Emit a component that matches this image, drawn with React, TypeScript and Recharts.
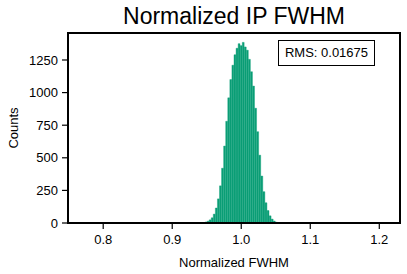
import React from "react";
import { BarChart, Bar, XAxis, YAxis } from "recharts";

// histogram bin centres (Normalized FWHM)
const binCenters = [
  0.946, 0.949, 0.952, 0.955, 0.958, 0.961, 0.964, 0.967, 0.97, 0.973, 0.976, 0.979,
  0.982, 0.985, 0.988, 0.991, 0.994, 0.997, 1.0, 1.003, 1.006, 1.009, 1.012, 1.015,
  1.018, 1.021, 1.024, 1.027, 1.03, 1.033, 1.036, 1.039, 1.042, 1.045, 1.048, 1.051, 1.054,
];
const binCounts = [
  3, 8, 14, 24, 40, 68, 115, 185, 285, 420, 590, 780,
  960, 1100, 1210, 1290, 1340, 1375, 1360, 1385, 1350, 1325, 1255, 1160,
  1050, 880, 700, 520, 360, 240, 155, 95, 55, 30, 15, 6, 2,
];
const xTicks = [0.8, 0.9, 1.0, 1.1, 1.2];
const yTicks = [0, 250, 500, 750, 1000, 1250];
const xDomain = [0.749, 1.23];
const yMax = 1457;

const data = binCenters.map((x, i) => ({ x, count: binCounts[i] }));

const font = "'Liberation Sans', Arial, sans-serif";
const tickStyle = { fontSize: 13, fill: "#000", fontFamily: font };
const axisLine = { stroke: "#000", strokeWidth: 1.5 };

export default function App() {
  return (
    <div style={{ position: "absolute", left: 0, top: 0, width: 407, height: 274, background: "#fff", fontFamily: font }}>
      <div style={{ position: "absolute", left: 68, width: 332, top: 3, textAlign: "center", fontSize: 23, color: "#000" }}>
        Normalized IP FWHM
      </div>
      <div
        style={{
          position: "absolute", left: 13, top: 128, fontSize: 13, color: "#000",
          transform: "translate(-50%, -50%) rotate(-90deg)", whiteSpace: "nowrap",
        }}
      >
        Counts
      </div>
      <div style={{ position: "absolute", left: 0, top: 0 }}>
        <BarChart
          width={407}
          height={274}
          data={data}
          margin={{ top: 33, right: 7, bottom: 0, left: 28 }}
          barCategoryGap={0}
          barGap={0}
        >
          <XAxis
            dataKey="x"
            type="number"
            domain={xDomain}
            ticks={xTicks}
            tickFormatter={(v: number) => v.toFixed(1)}
            allowDataOverflow
            height={51}
            tick={tickStyle}
            tickSize={6}
            tickMargin={6}
            axisLine={axisLine}
            tickLine={{ stroke: "#000", strokeWidth: 1.2 }}
            label={{ value: "Normalized FWHM", position: "insideBottom", offset: 7, fill: "#000", fontSize: 13, fontFamily: font }}
          />
          <YAxis
            type="number"
            domain={[0, yMax]}
            ticks={yTicks}
            allowDataOverflow
            width={40}
            tick={tickStyle}
            tickSize={6}
            tickMargin={4}
            axisLine={axisLine}
            tickLine={{ stroke: "#000", strokeWidth: 1.2 }}
          />
          <Bar dataKey="count" fill="#0b9e76" stroke="#0b9e76" strokeWidth={0.4} barSize={2.1} isAnimationActive={false} />
        </BarChart>
      </div>
      {/* plot frame: full box over the axes */}
      <div
        style={{
          position: "absolute", left: 67, top: 32, width: 334, height: 192, boxSizing: "border-box", zIndex: 5,
          border: "2px solid #000", pointerEvents: "none",
        }}
      />
      <div
        style={{
          position: "absolute", left: 278, top: 40, width: 97, height: 26, border: "1.5px solid #000", zIndex: 6,
          boxSizing: "border-box", fontSize: 13, color: "#000", textAlign: "center", lineHeight: "23px", background: "#fff",
        }}
      >
        RMS: 0.01675
      </div>
    </div>
  );
}
